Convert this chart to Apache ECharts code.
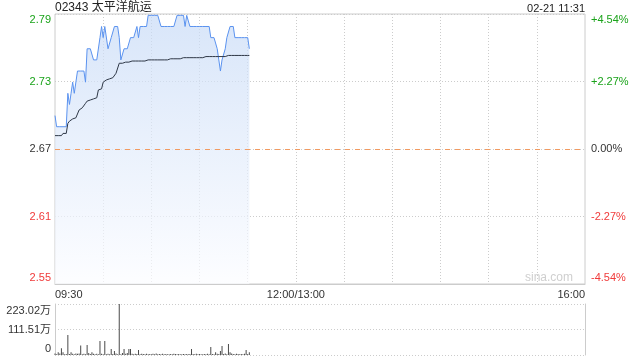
<!DOCTYPE html>
<html><head><meta charset="utf-8">
<script src="https://cdn.jsdelivr.net/npm/echarts@6/dist/echarts.min.js"></script>
<style>html,body{margin:0;padding:0;background:#fff}#c{width:640px;height:360px}</style>
</head><body><div id="c"></div>
<script>
const titleText = '02343 太平洋航运';
const stampText = '02-21 11:31';
const watermark = 'sina.com';
const prevClose = 2.67;
const rangePct = 4.54;
const xLabelIdx = [0, 150, 330];
const xLabelText = ['09:30', '12:00/13:00', '16:00'];

const prices = [
  2.70, 2.69, 2.69, 2.69, 2.69, 2.69, 2.69, 2.69, 2.72, 2.71,
  2.72, 2.73, 2.72, 2.72, 2.74, 2.74, 2.74, 2.74, 2.74, 2.73,
  2.76, 2.76, 2.76, 2.76, 2.75, 2.75, 2.75, 2.75, 2.77, 2.78,
  2.77, 2.78, 2.78, 2.76, 2.76, 2.77, 2.77, 2.78, 2.78, 2.78,
  2.77, 2.75, 2.75, 2.76, 2.76, 2.76, 2.76, 2.77, 2.77, 2.77,
  2.77, 2.78, 2.77, 2.78, 2.78, 2.78, 2.78, 2.78, 2.79, 2.79,
  2.79, 2.79, 2.79, 2.79, 2.79, 2.79, 2.78, 2.78, 2.78, 2.78,
  2.78, 2.78, 2.78, 2.78, 2.78, 2.78, 2.79, 2.79, 2.79, 2.79,
  2.79, 2.78, 2.79, 2.79, 2.78, 2.78, 2.78, 2.78, 2.78, 2.78,
  2.78, 2.78, 2.78, 2.78, 2.78, 2.78, 2.78, 2.77, 2.77, 2.77,
  2.77, 2.76, 2.75, 2.74, 2.75, 2.75, 2.76, 2.77, 2.77, 2.78,
  2.78, 2.78, 2.77, 2.77, 2.77, 2.77, 2.77, 2.77, 2.77, 2.77,
  2.77, 2.76
];
const avgPrices = [
  2.682, 2.682, 2.682, 2.682, 2.682, 2.684, 2.684, 2.684, 2.693, 2.695,
  2.696, 2.697, 2.697, 2.698, 2.699, 2.705, 2.706, 2.707, 2.708, 2.711,
  2.713, 2.714, 2.714, 2.715, 2.715, 2.716, 2.716, 2.723, 2.723, 2.724,
  2.730, 2.731, 2.732, 2.732, 2.733, 2.733, 2.734, 2.735, 2.738, 2.738,
  2.747, 2.747, 2.747, 2.747, 2.748, 2.748, 2.748, 2.748, 2.749, 2.749,
  2.749, 2.749, 2.749, 2.749, 2.749, 2.749, 2.749, 2.749, 2.750, 2.750,
  2.750, 2.750, 2.750, 2.750, 2.750, 2.750, 2.750, 2.750, 2.750, 2.750,
  2.750, 2.751, 2.751, 2.751, 2.751, 2.751, 2.751, 2.751, 2.751, 2.751,
  2.752, 2.752, 2.752, 2.752, 2.752, 2.752, 2.752, 2.752, 2.752, 2.752,
  2.752, 2.752, 2.752, 2.753, 2.753, 2.753, 2.753, 2.753, 2.753, 2.753,
  2.753, 2.753, 2.753, 2.753, 2.753, 2.753, 2.753, 2.753, 2.754, 2.754,
  2.754, 2.754, 2.754, 2.754, 2.754, 2.754, 2.754, 2.754, 2.754, 2.754,
  2.754, 2.754
];
// volume in 万
const volumes = [
  7, 3, 12, 7, 29, 12, 3, 4, 87, 4,
  12, 6, 3, 7, 6, 7, 41, 3, 6, 3,
  44, 9, 4, 12, 6, 3, 6, 3, 61, 6,
  3, 61, 3, 6, 3, 26, 4, 17, 7, 3,
  223.02, 3, 9, 26, 5, 9, 26, 26, 6, 3,
  6, 4, 22, 3, 6, 4, 3, 5, 3, 4,
  3, 5, 3, 7, 3, 4, 3, 5, 3, 4,
  3, 3, 4, 3, 5, 4, 3, 4, 3, 3,
  4, 3, 4, 3, 4, 26, 4, 3, 5, 3,
  4, 3, 3, 4, 3, 5, 3, 35, 4, 3,
  12, 5, 4, 17, 39, 4, 7, 3, 48, 12,
  7, 4, 3, 5, 4, 3, 4, 3, 5, 22,
  4, 12
];
const volMax = 223.02;

// time categories: 09:30..12:00(/13:00)..16:00
const times = [];
for (let i = 0; i <= 330; i++) {
  let m;
  if (i <= 150) m = 9 * 60 + 30 + i; else m = 13 * 60 + (i - 150);
  const hh = String(Math.floor(m / 60)).padStart(2, '0');
  const mm = String(m % 60).padStart(2, '0');
  times.push(hh + ':' + mm);
}

const yMin = +(prevClose * (1 - rangePct / 100)).toFixed(6);
const yMax = +(prevClose * (1 + rangePct / 100)).toFixed(6);
const yStep = +(prevClose * rangePct / 200).toFixed(6);

const GREEN = '#1aa31a', RED = '#f03a3a', DARK = '#333333';
const FF = '"Liberation Sans", Arial, "Noto Sans CJK SC", sans-serif';
const base = { fontSize: 11, fontFamily: FF };
function richSet() {
  return {
    g: Object.assign({ color: GREEN }, base),
    gT: Object.assign({ color: GREEN, padding: [11, 0, 0, 0] }, base),
    k: Object.assign({ color: DARK }, base),
    kT: Object.assign({ color: DARK, padding: [14, 0, 0, 0] }, base),
    kB: Object.assign({ color: DARK, padding: [0, 0, 12, 0] }, base),
    r: Object.assign({ color: RED }, base),
    rB: Object.assign({ color: RED, padding: [0, 0, 12, 0] }, base)
  };
}
function cls(v) {
  const d = v - prevClose;
  const c = Math.abs(d) < 1e-4 ? 'k' : (d > 0 ? 'g' : 'r');
  const p = Math.abs(v - yMax) < 1e-3 ? 'T' : (Math.abs(v - yMin) < 1e-3 ? 'B' : '');
  return c + p;
}

const chart = echarts.init(document.getElementById('c'), null, { renderer: 'canvas' });
const gridLine = { color: '#cccccc', type: [1, 2], width: 1 };
const NONE = 'rgba(0,0,0,0)';

chart.setOption({
  animation: false,
  textStyle: { fontFamily: FF },
  grid: [
    { left: 55, right: 55, top: 14, height: 270, show: true, borderColor: '#cccccc', borderWidth: 1 },
    { left: 55, right: 55, top: 304, height: 51 }
  ],
  xAxis: [
    {
      type: 'category', gridIndex: 0, data: times, boundaryGap: false,
      axisLine: { show: true, lineStyle: { color: '#cccccc' } },
      axisTick: { show: false },
      axisLabel: {
        show: true, color: DARK, fontSize: 11, margin: 5,
        interval: (i) => xLabelIdx.indexOf(i) >= 0,
        formatter: (v, i) => { const k = xLabelIdx.indexOf(i); return k >= 0 ? xLabelText[k] : ''; },
        showMinLabel: true, showMaxLabel: true,
        alignMinLabel: 'left', alignMaxLabel: 'right'
      },
      splitLine: { show: true, interval: (i) => i % 30 === 0 && i > 0 && i < 330, lineStyle: gridLine }
    },
    {
      type: 'category', gridIndex: 1, data: times, boundaryGap: false,
      axisLine: { show: false }, axisTick: { show: false }, axisLabel: { show: false },
      splitLine: { show: false }
    }
  ],
  yAxis: [
    {
      type: 'value', gridIndex: 0, min: yMin, max: yMax, interval: yStep, position: 'left',
      axisLine: { show: false }, axisTick: { show: false },
      splitLine: { show: true, lineStyle: gridLine },
      axisLabel: {
        margin: 4, rich: richSet(),
        formatter: (v) => '{' + cls(v) + '|' + v.toFixed(2) + '}'
      }
    },
    {
      type: 'value', gridIndex: 0, min: yMin, max: yMax, interval: yStep, position: 'right',
      axisLine: { show: false }, axisTick: { show: false }, splitLine: { show: false },
      axisLabel: {
        margin: 6, rich: richSet(),
        formatter: (v) => {
          const pct = (v - prevClose) / prevClose * 100;
          let s = Math.abs(pct) < 0.005 ? '0.00%' : ((pct > 0 ? '+' : '') + pct.toFixed(2) + '%');
          return '{' + cls(v) + '|' + s + '}';
        }
      }
    },
    {
      type: 'value', gridIndex: 1, min: 0, max: volMax, interval: volMax / 2, position: 'left',
      axisLine: { show: true, lineStyle: { color: '#cccccc' } }, axisTick: { show: false },
      splitLine: { show: true, lineStyle: gridLine },
      axisLabel: {
        margin: 4, rich: richSet(),
        formatter: (v) => {
          if (v === 0) return '{kB|0}';
          const s = v.toFixed(2) + '万';
          return Math.abs(v - volMax) < 1e-6 ? '{kT|' + s + '}' : '{k|' + s + '}';
        }
      }
    },
    {
      type: 'value', gridIndex: 1, min: 0, max: volMax, position: 'right',
      axisLine: { show: true, lineStyle: { color: '#cccccc' } }, axisTick: { show: false },
      axisLabel: { show: false }, splitLine: { show: false }
    },
    {
      // previous-close reference line (only the middle split line is coloured)
      type: 'value', gridIndex: 0, min: yMin, max: yMax, interval: 2 * yStep, position: 'left',
      z: 6, axisLine: { show: false }, axisTick: { show: false }, axisLabel: { show: false },
      splitLine: { show: true, lineStyle: { color: [NONE, '#f29a60', NONE], type: [5, 5], width: 1 } }
    }
  ],
  series: [
    {
      type: 'line', xAxisIndex: 0, yAxisIndex: 0, data: prices, symbol: 'none',
      lineStyle: { color: '#5a92ef', width: 1 },
      areaStyle: {
        origin: 'start',
        color: new echarts.graphic.LinearGradient(0, 0, 0, 1, [
          { offset: 0, color: '#c7daf6' }, { offset: 1, color: '#fbfcff' }
        ])
      },
      z: 3
    },
    {
      type: 'line', xAxisIndex: 0, yAxisIndex: 0, data: avgPrices, symbol: 'none',
      lineStyle: { color: '#2e3746', width: 1 }, z: 4
    },
    {
      type: 'bar', xAxisIndex: 1, yAxisIndex: 2, data: volumes, barWidth: 1,
      itemStyle: { color: '#4a4a4a' }
    }
  ],
  graphic: [
    { type: 'text', left: 55, top: 2, style: { text: titleText, fontSize: 12, fontFamily: FF, fill: '#222' } },
    { type: 'text', right: 55, top: 3, style: { text: stampText, fontSize: 11, fontFamily: FF, fill: '#222' } },
    { type: 'text', right: 67, top: 272, style: { text: watermark, fontSize: 12, fontFamily: FF, fill: '#cfcfcf' } }
  ]
});
</script>
</body></html>
